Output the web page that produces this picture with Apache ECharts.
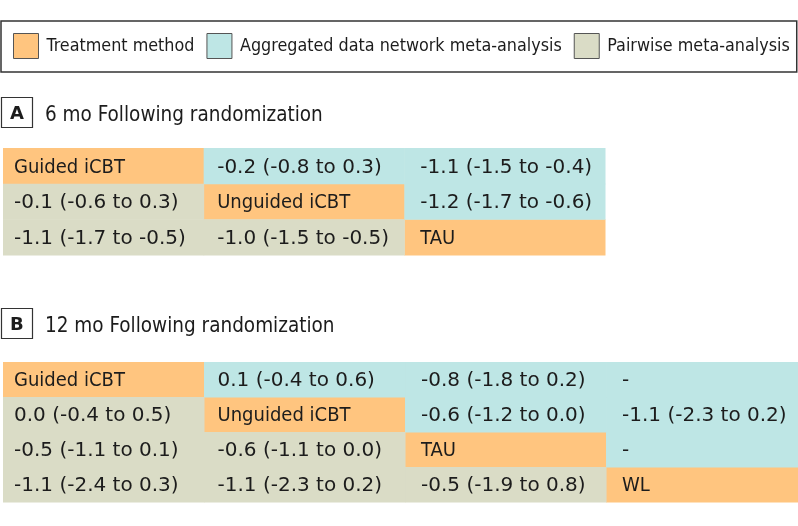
<!DOCTYPE html>
<html>
<head>
<meta charset="utf-8">
<script src="https://cdn.jsdelivr.net/npm/echarts@6/dist/echarts.min.js"></script>
<style>
    html, body { margin: 0; padding: 0; background: #fff; }
    #chart { width: 798px; height: 526px; }
</style>
</head>
<body>
<div id="chart"></div>
<script type="text/javascript">
    // 图例名称 / 三种单元格类型
    var legendNames = ['Treatment method', 'Aggregated data network meta-analysis', 'Pairwise meta-analysis'];
    var cellColors = ['#FFC57F', '#BEE6E5', '#DADCC6'];

    // A: 6 mo
    var treatments6 = ['Guided iCBT', 'Unguided iCBT', 'TAU'];
    var estimates6 = [
        [null, [-0.2, -0.8, 0.3], [-1.1, -1.5, -0.4]],
        [[-0.1, -0.6, 0.3], null, [-1.2, -1.7, -0.6]],
        [[-1.1, -1.7, -0.5], [-1.0, -1.5, -0.5], null]
    ];

    // B: 12 mo
    var treatments12 = ['Guided iCBT', 'Unguided iCBT', 'TAU', 'WL'];
    var estimates12 = [
        [null, [0.1, -0.4, 0.6], [-0.8, -1.8, 0.2], null],
        [[0.0, -0.4, 0.5], null, [-0.6, -1.2, 0.0], [-1.1, -2.3, 0.2]],
        [[-0.5, -1.1, 0.1], [-0.6, -1.1, 0.0], null, null],
        [[-1.1, -2.4, 0.3], [-1.1, -2.3, 0.2], [-0.5, -1.9, 0.8], null]
    ];

    var panelTitles = ['6 mo Following randomization', '12 mo Following randomization'];
    var textPad = [11, 13.5, 16, 16];

    function fmt(e) {
        if (!e) return '-';
        return e[0].toFixed(1) + ' (' + e[1].toFixed(1) + ' to ' + e[2].toFixed(1) + ')';
    }

    // 按类型拆分单元格: 0 对角线, 1 上三角, 2 下三角
    function buildCells(treatments, estimates) {
        var groups = [[], [], []];
        for (var r = 0; r < treatments.length; r++) {
            for (var c = 0; c < treatments.length; c++) {
                var kind = r === c ? 0 : (c > r ? 1 : 2);
                var text = r === c ? treatments[r] : fmt(estimates[r][c]);
                groups[kind].push({ value: [c, r], text: text, isName: r === c });
            }
        }
        return groups;
    }

    var cells6 = buildCells(treatments6, estimates6);
    var cells12 = buildCells(treatments12, estimates12);

    function makeRender(list) {
        return function (params, api) {
            var item = list[params.dataIndex];
            var p = api.coord([api.value(0), api.value(1)]);
            var s = api.size([1, 1]);
            var x0 = p[0] - s[0] / 2;
            var y0 = p[1] - s[1] / 2;
            return {
                type: 'group',
                children: [{
                    type: 'rect',
                    shape: { x: x0, y: y0, width: s[0] + 0.5, height: s[1] + 0.5 },
                    style: { fill: api.visual('color') }
                }, {
                    type: 'text',
                    style: {
                        text: item.text,
                        x: x0 + textPad[item.value[0]],
                        y: p[1] + 1.5,
                        verticalAlign: 'middle',
                        fontFamily: item.isName ? 'DejaVu Sans Condensed' : 'DejaVu Sans',
                        fontSize: 20,
                        fill: '#1c1c1c'
                    }
                }]
            };
        };
    }

    var series = [];
    [cells6, cells12].forEach(function (groups, gi) {
        groups.forEach(function (list, k) {
            series.push({
                name: legendNames[k],
                type: 'custom',
                xAxisIndex: gi,
                yAxisIndex: gi,
                itemStyle: { color: cellColors[k] },
                renderItem: makeRender(list),
                data: list,
                clip: false,
                silent: true
            });
        });
    });

    var chart = echarts.init(document.getElementById('chart'));
    chart.setOption({
        animation: false,
        title: [
            { text: 'A', left: 1, top: 97, padding: [8, 9, 4, 9], borderColor: '#333', borderWidth: 1.2,
              textStyle: { fontFamily: 'DejaVu Sans', fontWeight: 'bold', fontSize: 18, lineHeight: 19, color: '#1c1c1c' } },
            { text: panelTitles[0], left: 45, top: 103, padding: 0,
              textStyle: { fontFamily: 'DejaVu Sans Condensed', fontWeight: 'normal', fontSize: 20.5, lineHeight: 26, color: '#1c1c1c' } },
            { text: 'B', left: 1, top: 308, padding: [8, 9, 4, 9], borderColor: '#333', borderWidth: 1.2,
              textStyle: { fontFamily: 'DejaVu Sans', fontWeight: 'bold', fontSize: 18, lineHeight: 19, color: '#1c1c1c' } },
            { text: panelTitles[1], left: 45, top: 314, padding: 0,
              textStyle: { fontFamily: 'DejaVu Sans Condensed', fontWeight: 'normal', fontSize: 20.5, lineHeight: 26, color: '#1c1c1c' } }
        ],
        legend: {
            left: 1,
            top: 21,
            selectedMode: false,
            padding: [12, 7, 13, 12],
            borderColor: '#333',
            borderWidth: 1.5,
            itemWidth: 25,
            itemHeight: 25,
            itemGap: 12,
            icon: 'rect',
            itemStyle: { borderColor: '#555', borderWidth: 1 },
            data: legendNames,
            textStyle: {
                fontFamily: 'DejaVu Sans Condensed',
                fontSize: 17.8,
                color: '#1c1c1c',
                padding: [0, 0, 0, 3]
            }
        },
        grid: [
            { left: 3, top: 148, width: 602, height: 107 },
            // 第四列被画面右边裁掉
            { left: 3, top: 362, width: 795, height: 140 }
        ],
        xAxis: [
            { type: 'value', gridIndex: 0, min: -0.5, max: 2.5, show: false },
            { type: 'value', gridIndex: 1, min: -0.5, max: 3.455, show: false }
        ],
        yAxis: [
            { type: 'category', gridIndex: 0, data: treatments6, inverse: true, show: false },
            { type: 'category', gridIndex: 1, data: treatments12, inverse: true, show: false }
        ],
        series: series
    });
</script>
</body>
</html>
